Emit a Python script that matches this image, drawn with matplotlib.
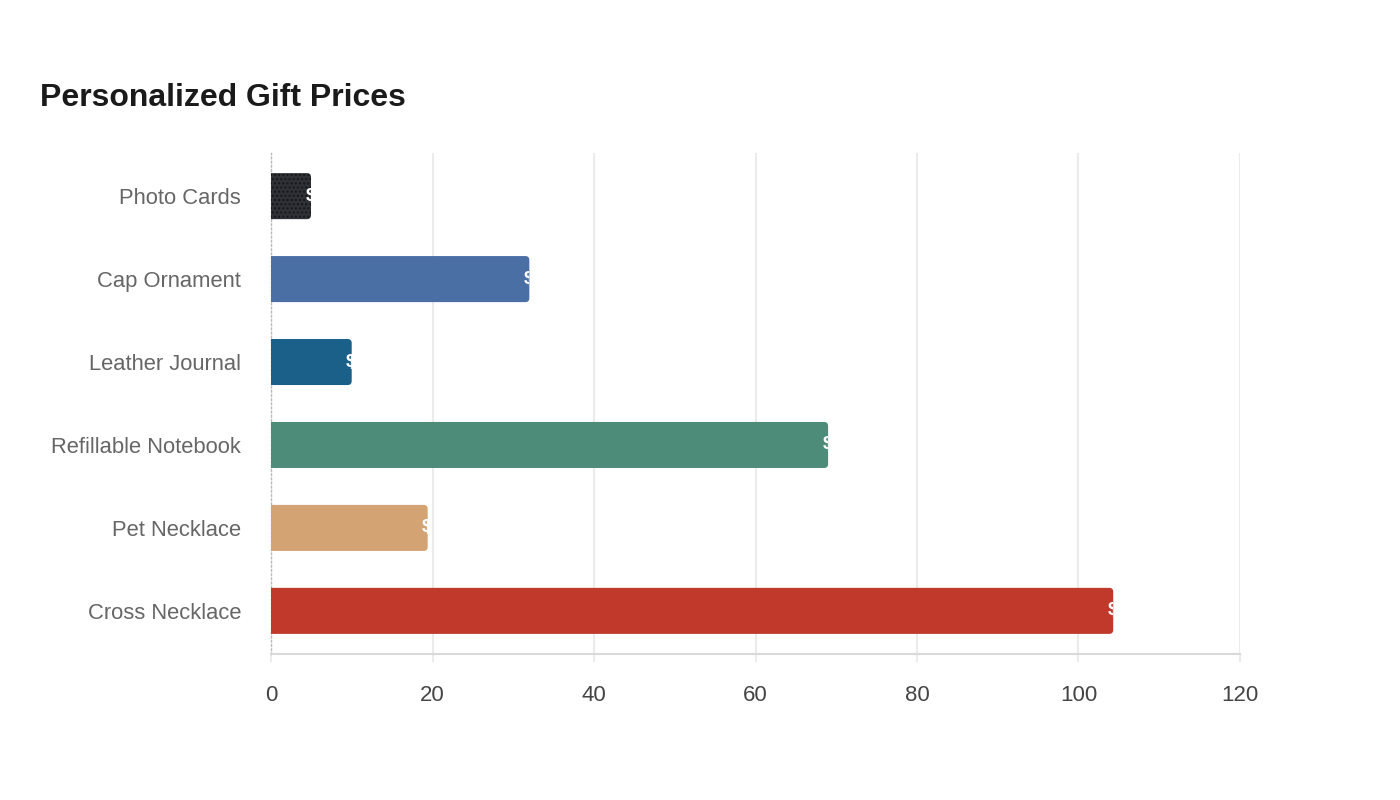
import numpy as np
import matplotlib
matplotlib.use("Agg")
import matplotlib.pyplot as plt
from matplotlib.patches import FancyBboxPatch
from matplotlib.transforms import Bbox, TransformedBbox

plt.rcParams['font.family'] = ['Liberation Sans', 'DejaVu Sans']

# data
gifts = ['Photo Cards', 'Cap Ornament', 'Leather Journal',
         'Refillable Notebook', 'Pet Necklace', 'Cross Necklace']
prices = [4.95, 31.99, 9.99, 68.99, 19.4, 104.3]
colors = ['#2e3136', '#4a6fa5', '#1a6088', '#4e8c7a', '#d4a373', '#c0392b']
xticks = [0, 20, 40, 60, 80, 100, 120]

fig = plt.figure(figsize=(14, 8), dpi=100)
ax = fig.add_axes([0.1936, 0.1825, 0.6921, 0.62625])

ax.set_xlim(0, 120)
ax.set_ylim(len(gifts) - 0.48, -0.52)

bar_h = 0.555
# pixel scales, used to keep the corner rounding circular
ppx_x = 969 / 120.0
ppx_y = 501 / 6.04
r_px = 4
mut_aspect = ppx_x / ppx_y

for i, (v, c) in enumerate(zip(prices, colors)):
    y0 = i - bar_h / 2
    p = FancyBboxPatch((-2, y0), v + 2, bar_h,
                       boxstyle="round,pad=0,rounding_size=%f" % (r_px / ppx_x),
                       mutation_aspect=mut_aspect,
                       facecolor=c, edgecolor='none', linewidth=0, zorder=3)
    ax.add_patch(p)
    if i == 0:
        # dotted texture on the first bar
        h = FancyBboxPatch((-2, y0), v + 2, bar_h,
                           boxstyle="round,pad=0,rounding_size=%f" % (r_px / ppx_x),
                           mutation_aspect=mut_aspect,
                           facecolor='none', edgecolor='#15171a', hatch='....',
                           linewidth=0, zorder=3.5)
        ax.add_patch(h)
    t = ax.annotate('$%.2f' % v, xy=(v, i), xytext=(-4, 0), textcoords='offset points',
                    ha='left', va='center', color='white', fontsize=14,
                    fontweight='bold', zorder=4)
    t.set_clip_on(True)
    t.set_clip_box(TransformedBbox(Bbox([[0, y0], [v, y0 + bar_h]]), ax.transData))

ax.set_yticks(range(len(gifts)))
ax.set_yticklabels(gifts)
ax.set_xticks(xticks)
ax.set_xticklabels([str(x) for x in xticks])

ax.tick_params(axis='y', length=0, pad=21.5, labelsize=15.8, labelcolor='#666666')
ax.tick_params(axis='x', length=6, width=1.5, color='#ebebeb', pad=16,
               labelsize=16, labelcolor='#444444')

ax.grid(axis='x', color='#ebebeb', linewidth=1.5, zorder=0)
ax.set_axisbelow(True)
for s in ['top', 'right']:
    ax.spines[s].set_visible(False)
ax.spines['bottom'].set_color('#d9d9d9')
ax.spines['bottom'].set_linewidth(1.5)
ax.spines['left'].set_color('#bbbbbb')
ax.spines['left'].set_linestyle((0, (1, 2)))
ax.spines['left'].set_linewidth(1)

fig.text(40 / 1400, 1 - 98 / 800, 'Personalized Gift Prices', fontsize=23,
         fontweight='bold', color='#1a1a1a', ha='left', va='center')

fig.savefig('out.png', dpi=100, facecolor='white')
